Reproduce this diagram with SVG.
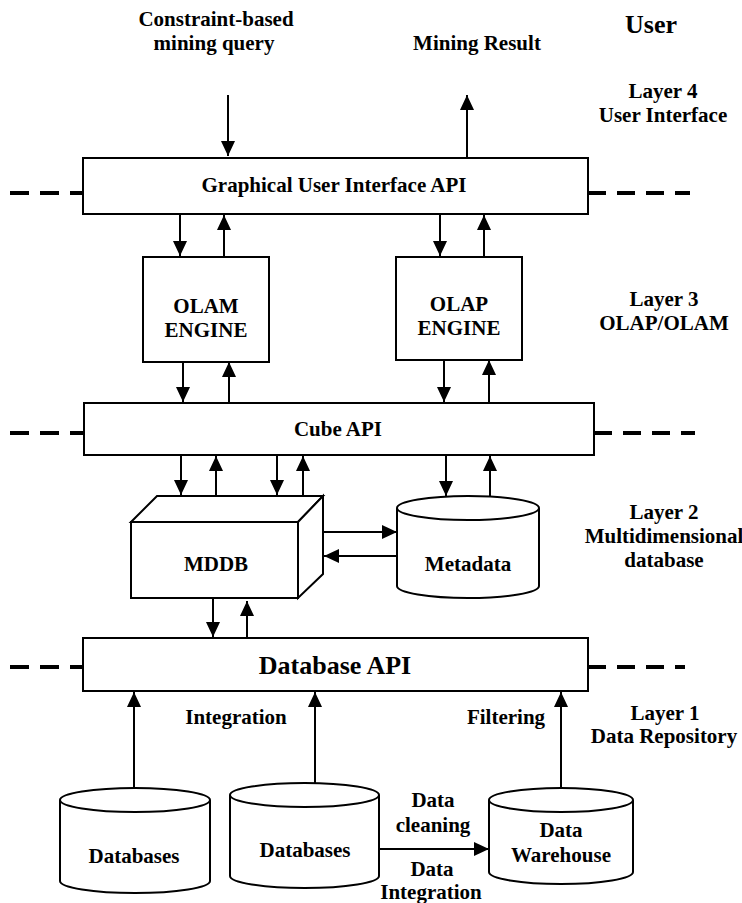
<svg xmlns="http://www.w3.org/2000/svg" width="742" height="903" viewBox="0 0 742 903">
  <defs>
    <style>
      text { font-family: "Liberation Serif", "Times New Roman", serif; font-weight: bold; font-size: 21px; fill: #000; text-anchor: middle; }
      .big { font-size: 26px; }
      .box { fill: #fff; stroke: #000; stroke-width: 2; }
      .conn line { stroke: #000; stroke-width: 2; fill: none; }
      .dash { stroke: #000; stroke-width: 4; fill: none; }
    </style>
    <marker id="head" markerUnits="userSpaceOnUse" markerWidth="15" markerHeight="14" refX="15" refY="7" orient="auto" viewBox="0 0 15 14">
      <path d="M0,0 L15,7 L0,14 z" fill="#000"/>
    </marker>
  </defs>
  <rect width="742" height="903" fill="#fff"/>

  <!-- layer separators -->
  <g id="separators">
    <line class="dash" x1="10" y1="193" x2="83" y2="193" stroke-dasharray="19 11"/>
    <line class="dash" x1="588" y1="193" x2="690" y2="193" stroke-dasharray="18 11"/>
    <line class="dash" x1="10" y1="433" x2="84" y2="433" stroke-dasharray="19 11"/>
    <line class="dash" x1="594" y1="433" x2="695" y2="433" stroke-dasharray="18 11"/>
    <line class="dash" x1="10" y1="667" x2="83" y2="667" stroke-dasharray="19 11"/>
    <line class="dash" x1="588" y1="667" x2="685" y2="667" stroke-dasharray="18 11"/>
  </g>

  <!-- connectors -->
  <g id="connectors" class="conn">
    <line x1="228" y1="95" x2="228" y2="156" marker-end="url(#head)"/>
    <line x1="467" y1="157" x2="467" y2="95" marker-end="url(#head)"/>
    <line x1="180" y1="214" x2="180" y2="256" marker-end="url(#head)"/>
    <line x1="224" y1="257" x2="224" y2="215" marker-end="url(#head)"/>
    <line x1="440" y1="214" x2="440" y2="256" marker-end="url(#head)"/>
    <line x1="484" y1="257" x2="484" y2="215" marker-end="url(#head)"/>
    <line x1="183" y1="362" x2="183" y2="402" marker-end="url(#head)"/>
    <line x1="229" y1="403" x2="229" y2="362" marker-end="url(#head)"/>
    <line x1="444" y1="360" x2="444" y2="402" marker-end="url(#head)"/>
    <line x1="489" y1="403" x2="489" y2="360" marker-end="url(#head)"/>
    <line x1="181" y1="455" x2="181" y2="495" marker-end="url(#head)"/>
    <line x1="216" y1="496" x2="216" y2="456" marker-end="url(#head)"/>
    <line x1="277" y1="455" x2="277" y2="495" marker-end="url(#head)"/>
    <line x1="303" y1="496" x2="303" y2="456" marker-end="url(#head)"/>
    <line x1="446" y1="455" x2="446" y2="496" marker-end="url(#head)"/>
    <line x1="490" y1="497" x2="490" y2="456" marker-end="url(#head)"/>
    <line x1="324" y1="532" x2="397" y2="532" marker-end="url(#head)"/>
    <line x1="397" y1="556" x2="324" y2="556" marker-end="url(#head)"/>
    <line x1="213" y1="598" x2="213" y2="637" marker-end="url(#head)"/>
    <line x1="247" y1="638" x2="247" y2="601" marker-end="url(#head)"/>
    <line x1="134" y1="792" x2="134" y2="692" marker-end="url(#head)"/>
    <line x1="315" y1="783" x2="315" y2="692" marker-end="url(#head)"/>
    <line x1="561" y1="788" x2="561" y2="692" marker-end="url(#head)"/>
    <line x1="379" y1="849" x2="489" y2="849" marker-end="url(#head)"/>
  </g>

  <!-- connector labels -->
  <g id="connector-labels">
    <text x="216" y="26">Constraint-based</text>
    <text x="214" y="50">mining query</text>
    <text x="477" y="50">Mining Result</text>
    <text x="236" y="724">Integration</text>
    <text x="506" y="724">Filtering</text>
    <text x="433" y="807">Data</text>
    <text x="433" y="832">cleaning</text>
    <text x="432" y="876">Data</text>
    <text x="431" y="899">Integration</text>
  </g>

  <!-- layer labels -->
  <g id="layer-labels">
    <text class="big" x="651" y="33">User</text>
    <text x="663" y="98">Layer 4</text>
    <text x="663" y="122">User Interface</text>
    <text x="664" y="306">Layer 3</text>
    <text x="664" y="330">OLAP/OLAM</text>
    <text x="664" y="519">Layer 2</text>
    <text x="664" y="543">Multidimensional</text>
    <text x="664" y="567">database</text>
    <text x="665" y="720">Layer 1</text>
    <text x="664" y="743">Data Repository</text>
  </g>

  <g id="gui-api">
    <rect class="box" x="83" y="158" width="505" height="56"/>
    <text x="334" y="192">Graphical User Interface API</text>
  </g>

  <g id="olam-engine">
    <rect class="box" x="143" y="257" width="126" height="105"/>
    <text x="206" y="313">OLAM</text>
    <text x="206" y="337">ENGINE</text>
  </g>

  <g id="olap-engine">
    <rect class="box" x="396" y="257" width="126" height="103"/>
    <text x="459" y="311">OLAP</text>
    <text x="459" y="335">ENGINE</text>
  </g>

  <g id="cube-api">
    <rect class="box" x="84" y="403" width="510" height="52"/>
    <text x="338" y="436">Cube API</text>
  </g>

  <g id="mddb">
    <polygon class="box" points="131,522 157,496 323,496 298,522"/>
    <polygon class="box" points="298,522 323,496 323,574 298,598"/>
    <rect class="box" x="131" y="522" width="167" height="76"/>
    <text x="216" y="571">MDDB</text>
  </g>

  <g id="metadata">
    <path class="box" d="M397,508 L397,586 A71,12 0 0 0 539,586 L539,508"/>
    <ellipse class="box" cx="468" cy="508" rx="71" ry="12"/>
    <text x="468" y="571">Metadata</text>
  </g>

  <g id="database-api">
    <rect class="box" x="83" y="638" width="505" height="53"/>
    <text class="big" x="335" y="674">Database API</text>
  </g>

  <g id="databases-1">
    <path class="box" d="M60,800 L60,881 A75,12 0 0 0 210,881 L210,800"/>
    <ellipse class="box" cx="135" cy="800" rx="75" ry="12"/>
    <text x="134" y="863">Databases</text>
  </g>

  <g id="databases-2">
    <path class="box" d="M230,795 L230,876 A74.5,12 0 0 0 379,876 L379,795"/>
    <ellipse class="box" cx="304.5" cy="795" rx="74.5" ry="12"/>
    <text x="305" y="857">Databases</text>
  </g>

  <g id="data-warehouse">
    <path class="box" d="M489,800 L489,872 A72,12 0 0 0 633,872 L633,800"/>
    <ellipse class="box" cx="561" cy="800" rx="72" ry="12"/>
    <text x="561" y="837">Data</text>
    <text x="561" y="862">Warehouse</text>
  </g>
</svg>
